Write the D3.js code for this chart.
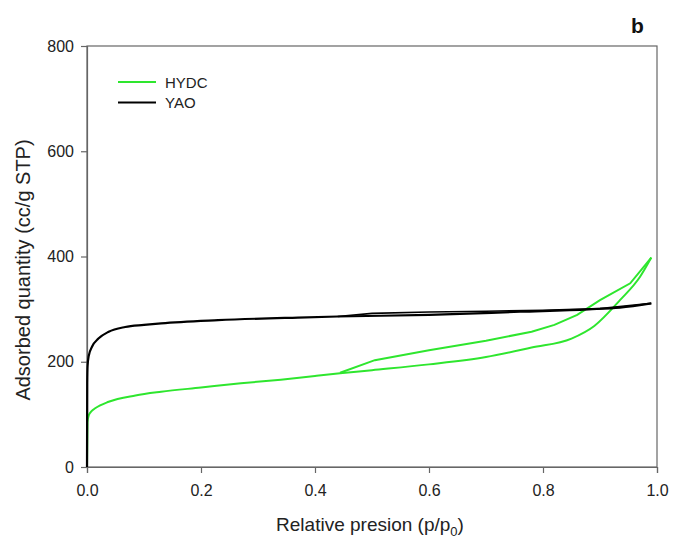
<!DOCTYPE html>
<html><head><meta charset="utf-8">
<script src="https://cdn.jsdelivr.net/npm/d3@7"></script>
<style>body{margin:0;background:#fff}svg{display:block}text{font-family:Arial,"Liberation Sans",sans-serif}</style>
</head><body><svg id="c" width="674" height="542"></svg>
<script>
// HYDC adsorption branch (p/p0, quantity)
const hydcAdsP = [0, 0.0008, 0.003, 0.008, 0.015, 0.038, 0.085, 0.13, 0.2, 0.27, 0.34, 0.4, 0.444, 0.5, 0.6, 0.7, 0.78, 0.85, 0.89, 0.935, 0.97, 0.99];
const hydcAdsV = [0, 85, 98, 106, 112, 124, 136, 143, 151, 159, 166, 173, 178, 184, 195, 209, 227, 244, 268, 317, 361, 398];
// HYDC desorption branch
const hydcDesP = [0.99, 0.953, 0.9, 0.86, 0.82, 0.78, 0.7, 0.6, 0.505, 0.444];
const hydcDesV = [398, 349, 317, 289, 270, 257, 240, 222, 203, 179];
// YAO adsorption branch
const yaoAdsP = [0, 0.0004, 0.001, 0.003, 0.009, 0.02, 0.038, 0.067, 0.1, 0.13, 0.23, 0.37, 0.44, 0.6, 0.76, 0.88, 0.935, 0.99];
const yaoAdsV = [0, 160, 192, 211, 229, 244, 257, 266, 270, 273, 279, 284, 286, 289, 295, 299.6, 303, 311];
// YAO desorption branch
const yaoDesP = [0.99, 0.9, 0.8, 0.7, 0.6, 0.5, 0.44];
const yaoDesV = [311, 301, 298, 296, 294.5, 292, 286];

const xTicks = [0, 0.2, 0.4, 0.6, 0.8, 1.0];
const yTicks = [0, 200, 400, 600, 800];
const seriesNames = ["HYDC", "YAO"];
const seriesColors = ["#2ee62e", "#000000"];

const svg = d3.select("#c");
const L = 87, R = 657, T = 46, B = 467;
const x = d3.scaleLinear().domain([0, 1]).range([L, R]);
const y = d3.scaleLinear().domain([0, 800]).range([B, T]);
const axisColor = "#666";

svg.append("rect").attr("x", L).attr("y", T).attr("width", R - L).attr("height", B - T)
  .attr("fill", "none").attr("stroke", axisColor).attr("stroke-width", 1.2);

const xa = svg.append("g").attr("transform", `translate(0,${B})`)
  .call(d3.axisBottom(x).tickValues(xTicks).tickSize(6).tickFormat(d3.format(".1f")));
const ya = svg.append("g").attr("transform", `translate(${L},0)`)
  .call(d3.axisLeft(y).tickValues(yTicks).tickSize(6).tickFormat(d3.format("d")));
[xa, ya].forEach(g => {
  g.select(".domain").attr("stroke", axisColor).attr("stroke-width", 1.2);
  g.selectAll(".tick line").attr("stroke", axisColor).attr("stroke-width", 1.2);
  g.selectAll(".tick text").attr("fill", "#222").style("font-size", "16px").style("font-family", "Arial, 'Liberation Sans', sans-serif");
});
xa.selectAll(".tick text").attr("y", 13).attr("dy", "1.0em");
ya.selectAll(".tick text").attr("x", -13);

const lineS = d3.line().x(d => x(d[0])).y(d => y(d[1])).curve(d3.curveMonotoneX);
const lineL = d3.line().x(d => x(d[0])).y(d => y(d[1]));
const zip = (a, b) => a.map((v, i) => [v, b[i]]);

svg.append("path").datum(zip(hydcAdsP, hydcAdsV)).attr("d", lineS)
  .attr("fill", "none").attr("stroke", seriesColors[0]).attr("stroke-width", 2);
svg.append("path").datum(zip(hydcDesP, hydcDesV)).attr("d", lineL)
  .attr("fill", "none").attr("stroke", seriesColors[0]).attr("stroke-width", 2);
svg.append("path").datum(zip(yaoAdsP, yaoAdsV)).attr("d", lineS)
  .attr("fill", "none").attr("stroke", seriesColors[1]).attr("stroke-width", 2.2);
svg.append("path").datum(zip(yaoDesP, yaoDesV)).attr("d", lineL)
  .attr("fill", "none").attr("stroke", seriesColors[1]).attr("stroke-width", 1.6);

const lg = svg.append("g");
seriesNames.forEach((n, i) => {
  const yy = 82 + i * 20.5;
  lg.append("line").attr("x1", 118).attr("x2", 156).attr("y1", yy).attr("y2", yy)
    .attr("stroke", seriesColors[i]).attr("stroke-width", 2);
  lg.append("text").attr("x", 165).attr("y", yy + 5.5).text(n)
    .style("font-size", "15px").attr("fill", "#222");
});

const xt = svg.append("text").attr("x", 370).attr("y", 531).attr("text-anchor", "middle")
  .style("font-size", "19px").attr("fill", "#222");
xt.append("tspan").text("Relative presion (p/p");
xt.append("tspan").text("0").style("font-size", "13px").attr("dy", 5);
xt.append("tspan").text(")").attr("dy", -5);

svg.append("text").attr("transform", "translate(30,270) rotate(-90)").attr("text-anchor", "middle")
  .style("font-size", "20px").attr("fill", "#222").text("Adsorbed quantity (cc/g STP)");

svg.append("text").attr("x", 631).attr("y", 33).style("font-size", "21px").style("font-weight", "bold")
  .attr("fill", "#111").text("b");
</script></body></html>
